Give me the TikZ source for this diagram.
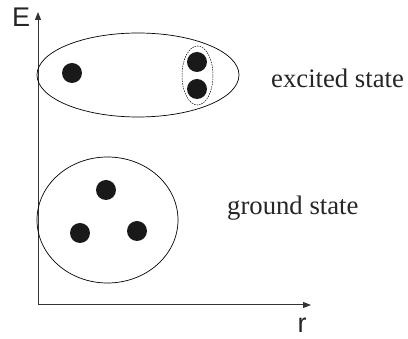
\documentclass[tikz,border=0pt]{standalone}
\usepackage{fontspec}
\setsansfont{Liberation Sans}
\newfontfamily\labelserif{Liberation Serif}
\usetikzlibrary{shapes.geometric,arrows.meta}
\begin{document}
\begin{tikzpicture}[x=1pt,y=-1pt,
  axis/.style={draw=black!80, line width=1pt, -{Triangle[length=8pt,width=6pt]}},
  region/.style={ellipse, draw=black, line width=0.7pt, inner sep=0pt},
  pair/.style={ellipse, draw=black, line width=0.5pt, dash pattern=on 1.5pt off 1pt, inner sep=0pt},
  dot/.style={circle, fill=black!90, inner sep=0pt, minimum size=20pt},
  label/.style={font=\labelserif\fontsize{26.7}{30}\selectfont, text=black!85, inner sep=0pt},
  axlabel/.style={font=\sffamily\fontsize{27}{31}\selectfont, text=black!85, inner sep=0pt}]
\useasboundingbox (0,0) rectangle (408,339);
\coordinate (O) at (38,305);
\coordinate (Etop) at (38,12);
\coordinate (Rend) at (311,305);
\draw[axis] (O) -- (Etop);
\draw[axis] (O) -- (Rend);
\node[axlabel, anchor=north west] (E) at (12,8) {E};
\node[axlabel, anchor=base] (r) at (302,333) {r};
\node[region, minimum width=202pt, minimum height=84pt] (exc) at (138,75) {};
\node[dot] (d1) at (72,73) {};
\node[dot] (d2) at (197,62) {};
\node[dot] (d3) at (197,89) {};
\node[pair, minimum width=31pt, minimum height=59pt] (pr) at (197.5,75.5) {};
\node[region, minimum width=141pt, minimum height=126pt] (gnd) at (107.5,220) {};
\node[dot] (g1) at (106,190) {};
\node[dot] (g2) at (80,233) {};
\node[dot] (g3) at (137,231) {};
\node[label, anchor=west] (lex) at (271,78) {excited state};
\node[label, anchor=west] (lgr) at (227,208) {ground state};
\end{tikzpicture}
\end{document}
